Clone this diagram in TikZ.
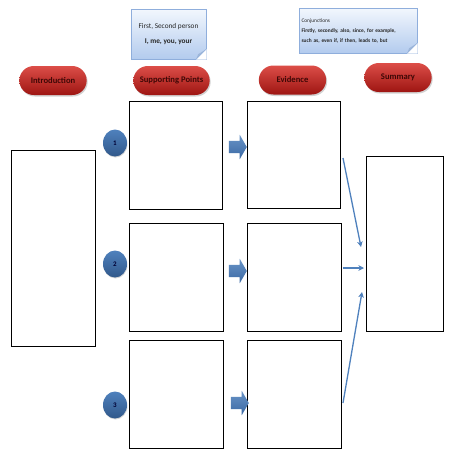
\documentclass[tikz,border=0pt]{standalone}
\usepackage{fontspec}
\setmainfont{Carlito}
\usetikzlibrary{arrows.meta, positioning, shapes.misc, shapes.geometric, shapes.arrows, shadows, calc}

\definecolor{pillhi}{HTML}{DC4E48}
\definecolor{pilllo}{HTML}{9E1512}
\definecolor{pilltxt}{HTML}{3E0806}
\definecolor{notehi}{HTML}{F2F7FD}
\definecolor{notelo}{HTML}{B3CBEE}
\definecolor{noteline}{HTML}{8FAEDC}
\definecolor{fold}{HTML}{9DB6D9}
\definecolor{arrblue}{HTML}{4F81BD}
\definecolor{arrdark}{HTML}{3A68A3}

\begin{document}
\begin{tikzpicture}[x=1pt,y=-1pt,
    pill/.style={rounded rectangle, minimum width=74pt, minimum height=29pt,
        top color=pillhi, bottom color=pilllo, draw=none,
        drop shadow={shadow xshift=1pt, shadow yshift=-1.5pt, opacity=0.35},
        text=pilltxt, font=\bfseries\fontsize{8.6}{10}\selectfont},
    box/.style={draw=black, line width=0.9pt, fill=white, anchor=north west, inner sep=0pt},
    num/.style={ellipse, minimum width=24pt, minimum height=27pt, inner sep=0pt,
        top color=arrblue, bottom color=arrdark!85!black, draw=none,
        drop shadow={shadow xshift=0.5pt, shadow yshift=-1pt, opacity=0.3},
        text=black!80!blue, font=\bfseries\fontsize{7}{8}\selectfont},
    blk/.style={single arrow, minimum height=18pt, inner xsep=0pt, inner ysep=6pt,
        single arrow head extend=6pt, single arrow tip angle=120,
        top color=arrblue!85!white, bottom color=arrdark, draw=none},
    note/.style={rectangle, top color=notehi, bottom color=notelo, draw=noteline,
        line width=0.4pt, inner sep=0pt, text=black!85},
    thin/.style={draw=arrblue, line width=1.3pt, -{Stealth[length=5.5pt, width=5.5pt, inset=1.5pt]}}]

    % page
    \path[fill=white] (0,0) rectangle (453,453);

    % headings
    \node[pill] (intro) at (53,80.5) {Introduction};
    \node[pill, minimum width=83pt] (supp) at (171.5,80.5) {Supporting Points};
    \node[pill] (evid) at (292.5,80) {Evidence};
    \node[pill] (summ) at (398,77.5) {Summary};

    % notes
    \node[note, minimum width=75pt, minimum height=50pt, align=center,
        font=\fontsize{7.3}{8}\selectfont] (n1) at (168.5,34)
        {First, Second person\\[7pt]\textbf{I, me, you, your}};
    \node[note, minimum width=118pt, minimum height=45pt, align=left,
        font=\fontsize{5.4}{10}\selectfont, text width=113pt] (n2) at (358,30.5)
        {Conjunctions\\\textbf{Firstly, secondly, also, since, for example,}\\
        \textbf{such as, even if, if then, leads to, but}};
    \foreach \n in {n1,n2} {
        \fill[white] ($(\n.south east)+(-10,0.3)$) -- ($(\n.south east)+(0.3,0.3)$) -- ($(\n.south east)+(0.3,-10)$) -- cycle;
        \fill[fold] ($(\n.south east)+(-10,0)$) -- ($(\n.south east)+(0,-10)$) -- ($(\n.south east)+(-8,-5)$) -- cycle;
        \draw[noteline, line width=0.4pt] ($(\n.south east)+(-10,0)$) -- ($(\n.south east)+(0,-10)$);
    }

    % boxes
    \node[box, minimum width=84pt, minimum height=196pt] (ibox) at (11,150) {};
    \node[box, minimum width=93pt, minimum height=108pt] (s1) at (129,101) {};
    \node[box, minimum width=94pt, minimum height=108pt] (s2) at (129,223) {};
    \node[box, minimum width=94pt, minimum height=108pt] (s3) at (129,340) {};
    \node[box, minimum width=93pt, minimum height=107pt] (e1) at (247,101) {};
    \node[box, minimum width=94pt, minimum height=108pt] (e2) at (247,223) {};
    \node[box, minimum width=94pt, minimum height=108pt] (e3) at (247,340) {};
    \node[box, minimum width=77pt, minimum height=175pt] (sbox) at (366,156) {};

    % numbers
    \node[num] (c1) at (115,143) {1};
    \node[num] (c2) at (115,264) {2};
    \node[num] (c3) at (115,405) {3};

    % block arrows
    \node[blk] (b1) at (236,147) {};
    \node[blk] (b2) at (236,271) {};
    \node[blk] (b3) at (238,403) {};

    % to summary
    \coordinate (f1) at (343,158);
    \coordinate (t1) at (361,247);
    \coordinate (f2) at (343,268);
    \coordinate (t2) at (364,268);
    \coordinate (f3) at (343,403);
    \coordinate (t3) at (362,292);
    \draw[thin] (f1) -- (t1);
    \draw[thin] (f2) -- (t2);
    \draw[thin] (f3) -- (t3);
\end{tikzpicture}
\end{document}
